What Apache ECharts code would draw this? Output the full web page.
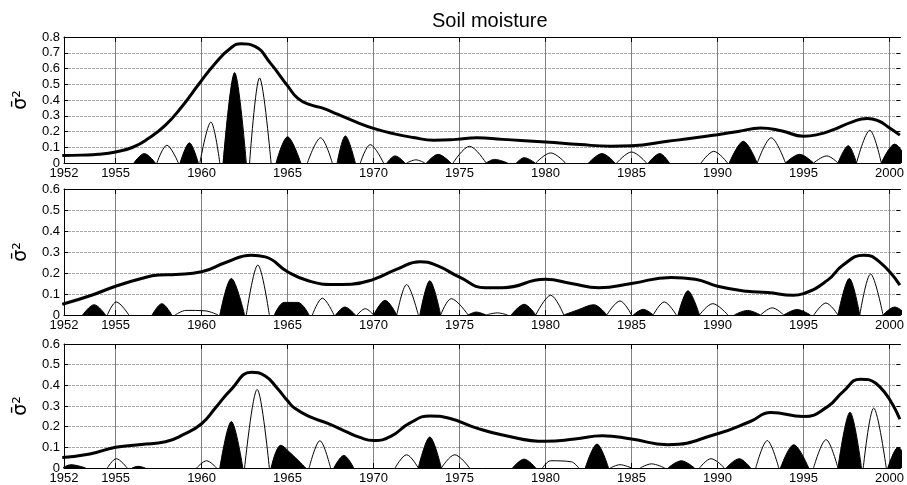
<!DOCTYPE html>
<html>
<head>
<meta charset="utf-8">
<script src="https://cdn.jsdelivr.net/npm/echarts@6/dist/echarts.min.js"></script>
<style>
  html, body { margin: 0; padding: 0; background: #fff; }
  #chart { width: 907px; height: 485px; }
</style>
</head>
<body>
<div id="chart"></div>
<script>
// x tick labels (years)
const yearLabels = [1952, 1955, 1960, 1965, 1970, 1975, 1980, 1985, 1990, 1995, 2000];
const yearTicks = [1955, 1960, 1965, 1970, 1975, 1980, 1985, 1990, 1995, 2000];
const yMax = [0.8, 0.6, 0.6];

// thick envelope curves: [year, value]
const envelope1 = [
  [1951.9, 0.047], [1953.0, 0.05], [1954.0, 0.055], [1955.0, 0.07], [1956.0, 0.10],
  [1956.9, 0.155], [1957.9, 0.24], [1958.85, 0.357], [1959.8, 0.495], [1960.8, 0.634],
  [1961.7, 0.73], [1962.3, 0.757], [1963.1, 0.74], [1964.0, 0.634], [1965.0, 0.49],
  [1965.6, 0.41], [1966.3, 0.37], [1967.0, 0.35], [1967.9, 0.31], [1969.0, 0.26],
  [1970.0, 0.22], [1971.2, 0.185], [1972.3, 0.162], [1973.5, 0.145], [1974.8, 0.15],
  [1976.0, 0.16], [1977.5, 0.15], [1980.0, 0.134], [1982.0, 0.117], [1983.8, 0.107],
  [1985.0, 0.11], [1987.1, 0.138], [1988.7, 0.16], [1990.0, 0.18], [1991.2, 0.2],
  [1992.5, 0.222], [1993.7, 0.205], [1995.0, 0.17], [1995.8, 0.18], [1996.7, 0.21],
  [1997.8, 0.26], [1998.7, 0.283], [1999.4, 0.265], [1999.9, 0.23], [2000.6, 0.177]
];
const envelope2 = [
  [1951.9, 0.051], [1953.6, 0.094], [1955.0, 0.137], [1956.5, 0.174], [1957.5, 0.19],
  [1958.5, 0.193], [1960.0, 0.206], [1961.4, 0.25], [1962.9, 0.285], [1963.7, 0.277],
  [1965.0, 0.206], [1966.2, 0.163], [1967.7, 0.145], [1968.7, 0.147], [1970.0, 0.17],
  [1971.4, 0.22], [1972.7, 0.254], [1973.7, 0.235], [1975.0, 0.18], [1976.5, 0.13],
  [1977.5, 0.13], [1980.0, 0.17], [1981.5, 0.15], [1983.1, 0.13], [1985.0, 0.15],
  [1987.3, 0.179], [1988.7, 0.17], [1990.0, 0.137], [1991.7, 0.113], [1992.9, 0.107],
  [1994.4, 0.094], [1995.0, 0.102], [1996.4, 0.166], [1997.3, 0.238], [1998.5, 0.285],
  [1999.4, 0.254], [2000.6, 0.142]
];
const envelope3 = [
  [1951.9, 0.051], [1953.5, 0.068], [1955.0, 0.10], [1956.5, 0.114], [1957.9, 0.127],
  [1958.9, 0.16], [1960.0, 0.214], [1960.8, 0.29], [1961.7, 0.378], [1962.9, 0.463],
  [1963.7, 0.445], [1964.4, 0.386], [1965.0, 0.325], [1965.4, 0.29], [1966.35, 0.246],
  [1967.3, 0.217], [1968.3, 0.18], [1969.2, 0.148], [1970.0, 0.133], [1971.0, 0.153],
  [1972.1, 0.217], [1973.3, 0.252], [1974.4, 0.241], [1976.0, 0.193], [1977.5, 0.16],
  [1980.0, 0.129], [1981.7, 0.14], [1983.3, 0.156], [1985.0, 0.14], [1987.1, 0.113],
  [1990.0, 0.166], [1991.9, 0.225], [1993.1, 0.268], [1995.0, 0.249], [1996.4, 0.297],
  [1997.3, 0.37], [1998.3, 0.43], [1999.2, 0.41], [2000.6, 0.236]
];

// bumps: [start, peakYear, peakValue, (peakYear2, peakValue2,) end]
const filled1 = [
  [1956.06, 1956.67, 0.06, 1957.31], [1958.75, 1959.29, 0.128, 1959.81],
  [1961.25, 1961.92, 0.574, 1962.6], [1964.33, 1965.0, 0.166, 1965.77],
  [1967.88, 1968.36, 0.172, 1968.94], [1970.77, 1971.25, 0.045, 1971.83],
  [1973.08, 1973.75, 0.055, 1974.5], [1976.54, 1977.03, 0.023, 1977.8],
  [1978.3, 1978.76, 0.034, 1979.4], [1982.5, 1983.28, 0.06, 1984.04],
  [1985.97, 1986.64, 0.06, 1987.2], [1990.68, 1991.5, 0.138, 1992.3],
  [1993.95, 1994.77, 0.055, 1995.58], [1997.0, 1997.6, 0.11, 1998.08],
  [1999.52, 2000.3, 0.12, 2001.1]
];
const open1 = [
  [1957.4, 1957.98, 0.113, 1958.65], [1959.9, 1960.54, 0.26, 1961.06],
  [1962.79, 1963.37, 0.54, 1964.04], [1966.15, 1966.92, 0.16, 1967.6],
  [1969.23, 1969.81, 0.117, 1970.58], [1971.92, 1972.46, 0.02, 1972.98],
  [1974.62, 1975.58, 0.106, 1976.54], [1979.43, 1980.3, 0.064, 1981.16],
  [1984.14, 1985.0, 0.07, 1985.87], [1989.04, 1989.78, 0.074, 1990.58],
  [1992.31, 1993.12, 0.16, 1993.95], [1995.58, 1996.35, 0.045, 1997.0],
  [1998.08, 1998.85, 0.208, 1999.52]
];
const filled2 = [
  [1953.08, 1953.75, 0.049, 1954.42], [1957.12, 1957.69, 0.054, 1958.27],
  [1961.06, 1961.73, 0.174, 1962.5], [1964.23, 1964.8, 0.06, 1965.6, 0.06, 1966.25],
  [1967.79, 1968.33, 0.038, 1968.94], [1970.0, 1970.67, 0.07, 1971.35],
  [1972.69, 1973.27, 0.163, 1973.9], [1975.49, 1975.97, 0.014, 1976.54],
  [1978.0, 1978.76, 0.051, 1979.43], [1981.06, 1981.9, 0.025, 1982.8, 0.049, 1983.56],
  [1985.1, 1985.68, 0.027, 1986.26], [1987.7, 1988.28, 0.115, 1988.95],
  [1990.97, 1991.74, 0.022, 1992.5], [1993.85, 1994.62, 0.026, 1995.4],
  [1997.0, 1997.66, 0.174, 1998.27], [1999.62, 2000.3, 0.038, 2001.0]
];
const open2 = [
  [1954.52, 1955.04, 0.062, 1955.77], [1958.46, 1959.1, 0.022, 1960.2, 0.02, 1960.96],
  [1962.6, 1963.27, 0.238, 1963.94], [1966.44, 1967.02, 0.08, 1967.7],
  [1969.04, 1969.52, 0.03, 1970.0], [1971.35, 1971.92, 0.145, 1972.6],
  [1973.9, 1974.52, 0.078, 1975.5], [1976.54, 1977.2, 0.01, 1977.8],
  [1979.43, 1980.3, 0.094, 1981.06], [1983.56, 1984.33, 0.067, 1985.0],
  [1986.26, 1986.9, 0.062, 1987.6], [1988.95, 1989.72, 0.054, 1990.6],
  [1992.5, 1993.18, 0.034, 1993.85], [1995.6, 1996.3, 0.057, 1997.0],
  [1998.27, 1998.9, 0.195, 1999.62]
];
const filled3 = [
  [1951.9, 1952.4, 0.016, 1953.27], [1955.96, 1956.3, 0.008, 1956.73],
  [1961.06, 1961.73, 0.225, 1962.4], [1964.04, 1964.6, 0.11, 1965.2, 0.07, 1966.06],
  [1967.69, 1968.27, 0.061, 1968.85], [1972.6, 1973.27, 0.15, 1973.94],
  [1978.08, 1978.75, 0.043, 1979.43], [1982.31, 1982.99, 0.116, 1983.66],
  [1987.12, 1987.89, 0.035, 1988.66], [1990.5, 1991.26, 0.045, 1991.93],
  [1993.66, 1994.43, 0.113, 1995.3], [1997.0, 1997.7, 0.27, 1998.37],
  [1999.9, 2000.5, 0.10, 2001.2]
];
const open3 = [
  [1954.52, 1955.04, 0.045, 1955.67], [1959.71, 1960.29, 0.035, 1960.87],
  [1962.5, 1963.23, 0.38, 1963.94], [1966.25, 1966.88, 0.132, 1967.5],
  [1971.25, 1971.92, 0.064, 1972.6], [1973.94, 1974.72, 0.064, 1975.58],
  [1979.82, 1980.3, 0.035, 1981.5, 0.03, 1981.93], [1983.76, 1984.33, 0.016, 1985.0],
  [1985.5, 1986.16, 0.02, 1986.93], [1988.95, 1989.62, 0.045, 1990.4],
  [1992.22, 1992.89, 0.133, 1993.56], [1995.58, 1996.31, 0.137, 1997.0],
  [1998.47, 1999.08, 0.29, 1999.81]
];

const envelopes = [envelope1, envelope2, envelope3];
const filledBumps = [filled1, filled2, filled3];
const openBumps = [open1, open2, open3];

// turn bump list into one line with gaps between bumps
function bumpLine(list) {
  const out = [];
  list.forEach(function (b) {
    out.push([b[0], 0]);
    for (let i = 1; i < b.length - 1; i += 2) out.push([b[i], b[i + 1]]);
    out.push([b[b.length - 1], 0]);
    out.push(null);
  });
  return out;
}

const font = '"Liberation Sans", Arial, sans-serif';
const grids = [
  { left: 64, right: 0, top: 37, height: 126 },
  { left: 64, right: 0, top: 189, height: 126 },
  { left: 64, right: 0, top: 344, height: 124 }
];

const xAxes = [];
const yAxes = [];
const series = [];

grids.forEach(function (g, i) {
  // bottom axis with labels
  xAxes.push({
    type: "value", gridIndex: i, min: 1952, max: 2000.63, position: "bottom",
    axisLine: { show: true, onZero: false, lineStyle: { color: "#000", width: 1 } },
    axisTick: { show: true, inside: true, length: 5, customValues: yearTicks, lineStyle: { color: "#000" } },
    axisLabel: {
      customValues: yearLabels, color: "#000", fontSize: 13, fontFamily: font, margin: 4,
      formatter: function (v) { return String(v); }
    },
    splitLine: { show: true, lineStyle: { color: "#808080", width: 1 } }
  });
  // top border with ticks
  xAxes.push({
    type: "value", gridIndex: i, min: 1952, max: 2000.63, position: "top",
    axisLine: { show: true, onZero: false, lineStyle: { color: "#000", width: 1 } },
    axisTick: { show: true, inside: true, length: 5, customValues: yearTicks, lineStyle: { color: "#000" } },
    axisLabel: { show: false },
    splitLine: { show: false }
  });
  yAxes.push({
    type: "value", gridIndex: i, min: 0, max: yMax[i], interval: 0.1, position: "left",
    name: "σ̄²", nameLocation: "middle", nameRotate: 90, nameGap: 27,
    nameTextStyle: { color: "#000", fontSize: 19, fontFamily: '"DejaVu Sans", sans-serif' },
    axisLine: { show: true, lineStyle: { color: "#000", width: 1 } },
    axisTick: { show: true, inside: true, length: 4, lineStyle: { color: "#000" } },
    axisLabel: { color: "#000", fontSize: 13, fontFamily: font, margin: 4 },
    splitLine: { show: true, lineStyle: { color: "#a6a6a6", width: 1, type: [3, 1] } }
  });
  yAxes.push({
    type: "value", gridIndex: i, min: 0, max: yMax[i], interval: 0.1, position: "right",
    axisLine: { show: false },
    axisTick: { show: true, inside: true, length: 4, lineStyle: { color: "#000" } },
    axisLabel: { show: false },
    splitLine: { show: false }
  });

  series.push({
    type: "line", xAxisIndex: 2 * i, yAxisIndex: 2 * i,
    data: bumpLine(filledBumps[i]), smooth: 0.35, showSymbol: false,
    lineStyle: { color: "#000", width: 1 },
    areaStyle: { color: "#000", opacity: 1 },
    silent: true, z: 2
  });
  series.push({
    type: "line", xAxisIndex: 2 * i, yAxisIndex: 2 * i,
    data: bumpLine(openBumps[i]), smooth: 0.35, showSymbol: false,
    lineStyle: { color: "#000", width: 1 },
    silent: true, z: 3
  });
  series.push({
    type: "line", xAxisIndex: 2 * i, yAxisIndex: 2 * i,
    data: envelopes[i], smooth: 0.5, showSymbol: false,
    lineStyle: { color: "#000", width: 3 },
    silent: true, z: 4
  });
});

const chart = echarts.init(document.getElementById("chart"));
chart.setOption({
  animation: false,
  backgroundColor: "#fff",
  title: {
    text: "Soil moisture", left: 427, top: 6,
    textStyle: { color: "#000", fontSize: 20, fontWeight: "normal", fontFamily: font }
  },
  grid: grids,
  xAxis: xAxes,
  yAxis: yAxes,
  series: series
});
</script>
</body>
</html>
